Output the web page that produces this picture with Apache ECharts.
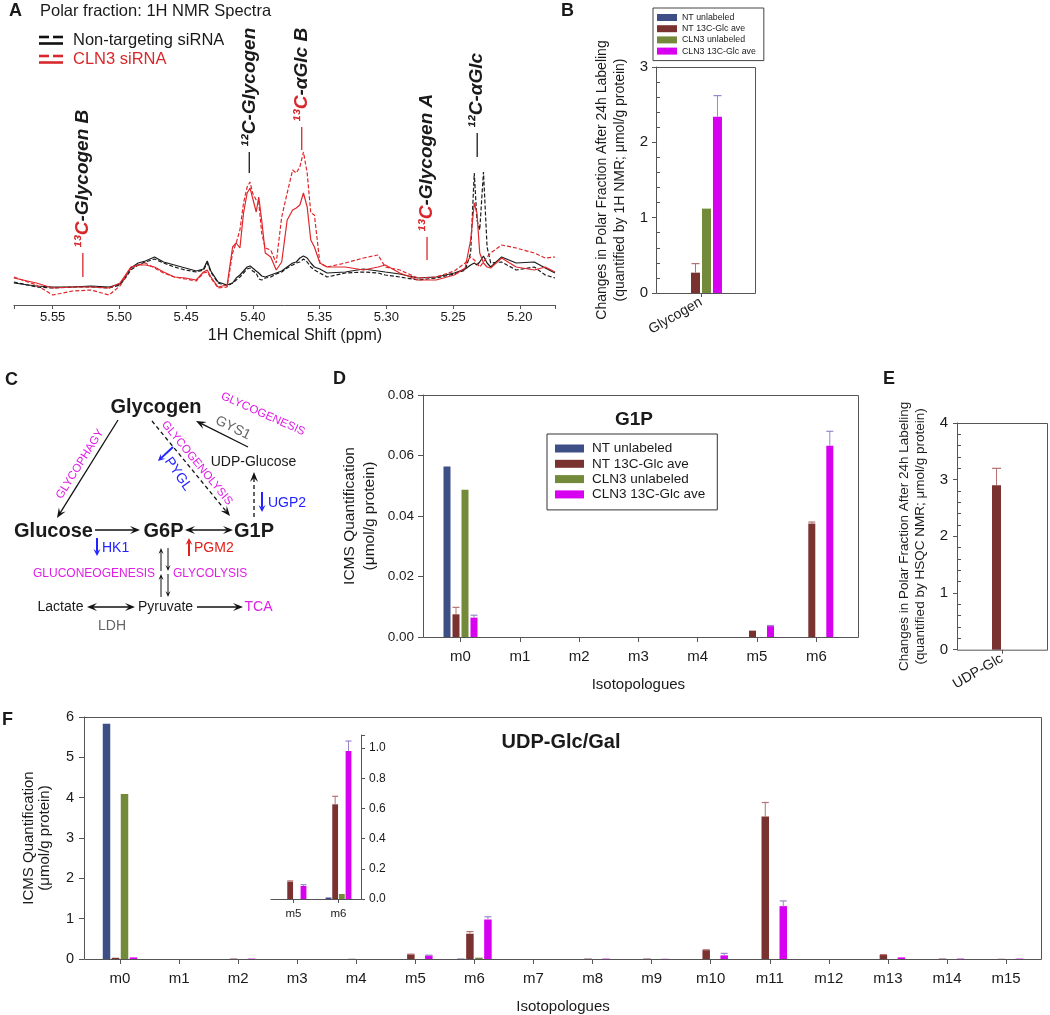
<!DOCTYPE html>
<html>
<head>
<meta charset="utf-8">
<script src="https://cdn.jsdelivr.net/npm/echarts@6.0.0/dist/echarts.min.js"></script>
<style>
html,body{margin:0;padding:0;background:#ffffff;}
#chart{width:1050px;height:1015px;}
</style>
</head>
<body>
<div id="chart"></div>
<script>
// ================= DATA =================
const seriesNames = ['NT unlabeled', 'NT 13C-Glc ave', 'CLN3 unlabeled', 'CLN3 13C-Glc ave'];

// Panel A: 1H NMR spectra (chemical shift in ppm, intensity in a.u.)
const nmrShift = [5.5791, 5.5623, 5.5500, 5.5350, 5.5214, 5.5078, 5.4996, 5.4955, 5.4914, 5.4860,
  5.4805, 5.4737, 5.4669, 5.4588, 5.4506, 5.4424, 5.4370, 5.4342, 5.4315, 5.4261,
  5.4193, 5.4152, 5.4125, 5.4097, 5.4070, 5.4043, 5.4021, 5.4002, 5.3975, 5.3956,
  5.3934, 5.3907, 5.3866, 5.3825, 5.3784, 5.3743, 5.3702, 5.3675, 5.3648, 5.3621,
  5.3593, 5.3566, 5.3539, 5.3498, 5.3444, 5.3307, 5.3171, 5.3062, 5.3008, 5.2899,
  5.2763, 5.2627, 5.2490, 5.2409, 5.2368, 5.2341, 5.2321, 5.2300, 5.2272, 5.2245,
  5.2218, 5.2136, 5.2027, 5.1891, 5.1809, 5.1736];
const ntSolid = [22, 19, 18, 18, 19, 18, 21, 28, 37, 42, 44, 48, 43, 40, 37, 34, 36, 44, 34, 23,
  20, 22, 27, 30, 34, 38, 39, 37, 34, 32, 29, 28, 30, 32, 34, 38, 42, 43, 47, 49,
  47, 42, 38, 36, 32, 33, 36, 34, 33, 31, 27, 28, 32, 36, 40, 42, 40, 43, 49, 42,
  38, 48, 42, 43, 37, 32];
const ntDashed = [23, 18, 17, 18, 18, 17, 20, 27, 35, 40, 43, 46, 42, 38, 35, 33, 35, 42, 33, 22,
  19, 22, 25, 28, 32, 36, 37, 34, 32, 26, 25, 27, 28, 31, 33, 37, 40, 42, 43, 46,
  43, 38, 35, 32, 28, 32, 33, 32, 30, 28, 25, 27, 31, 35, 52, 132, 85, 75, 133, 58,
  42, 43, 35, 38, 30, 27];
const clnSolid = [27, 22, 17, 18, 18, 17, 22, 30, 38, 40, 40, 38, 33, 28, 27, 25, 33, 35, 28, 18,
  20, 58, 62, 57, 92, 112, 117, 107, 93, 108, 85, 52, 48, 35, 43, 85, 95, 97, 100, 112,
  98, 65, 58, 42, 38, 38, 35, 38, 40, 32, 25, 25, 30, 37, 65, 102, 92, 52, 42, 38,
  37, 47, 38, 35, 38, 33];
const clnDashed = [28, 20, 10, 14, 15, 10, 19, 28, 37, 40, 42, 37, 32, 28, 26, 24, 32, 33, 27, 17,
  18, 52, 62, 75, 102, 118, 123, 112, 105, 103, 72, 57, 55, 42, 88, 112, 135, 132, 138, 153,
  132, 92, 90, 42, 38, 42, 47, 50, 38, 35, 27, 28, 34, 42, 48, 45, 42, 38, 43, 48,
  52, 60, 57, 52, 47, 48];
// peak annotations (ppm)
const peakPpm = [5.5274, 5.4027, 5.3634, 5.2695, 5.2319];
const peakIso = ['¹³', '¹²', '¹³', '¹³', '¹²'];
const peakRest = ['-Glycogen B', '-Glycogen', '-αGlc B', '-Glycogen A', '-αGlc'];

// Panel B: glycogen (1H NMR), one value per series
const glycogenCats = ['Glycogen'];
const glycogenMean = [0, 0.27, 1.12, 2.34];
const glycogenErrTop = [null, 0.39, null, 2.62];

// Panel D: G1P isotopologues
const g1pCats = ['m0', 'm1', 'm2', 'm3', 'm4', 'm5', 'm6'];
const g1pNTunl = [0.0564, 0, 0, 0, 0, 0, 0];
const g1pNT13 = [0.0075, 0, 0, 0, 0, 0.0021, 0.0375];
const g1pCLNunl = [0.0487, 0, 0, 0, 0, 0, 0];
const g1pCLN13 = [0.0064, 0, 0, 0, 0, 0.0036, 0.0632];
const g1pNT13Err = [0.0098, null, null, null, null, null, 0.0380];
const g1pCLN13Err = [0.0072, null, null, null, null, 0.0038, 0.0680];

// Panel E: UDP-Glc (HSQC NMR)
const udpGlcCats = ['UDP-Glc'];
const udpGlcMean = [0, 2.90, 0, 0];
const udpGlcErrTop = [null, 3.20, null, null];

// Panel F: UDP-Glc/Gal isotopologues
const udpCats = ['m0', 'm1', 'm2', 'm3', 'm4', 'm5', 'm6', 'm7', 'm8', 'm9', 'm10', 'm11', 'm12', 'm13', 'm14', 'm15'];
const udpNTunl = [5.83, 0, 0, 0, 0, 0, 0.01, 0, 0, 0, 0, 0, 0, 0, 0, 0];
const udpNT13 = [0.03, 0, 0.01, 0, 0.005, 0.115, 0.627, 0, 0.01, 0.01, 0.22, 3.53, 0, 0.10, 0.01, 0.005];
const udpCLNunl = [4.09, 0, 0, 0, 0, 0, 0.033, 0, 0, 0, 0, 0, 0, 0, 0, 0];
const udpCLN13 = [0.04, 0, 0.01, 0, 0, 0.086, 0.98, 0, 0.01, 0.005, 0.09, 1.31, 0, 0.04, 0.01, 0.01];
const udpNT13Err = [null, null, null, null, null, 0.12, 0.68, null, null, null, 0.23, 3.88, null, 0.11, null, null];
const udpCLN13Err = [null, null, null, null, null, 0.095, 1.046, null, null, null, 0.14, 1.44, null, null, null, null];
// inset shows m5 and m6 of panel F
const insetCats = ['m5', 'm6'];

// ================= STYLE =================
const FONT = '"Liberation Sans", Arial, Helvetica, sans-serif';
const COLORS = ['#3e4f88', '#7a3230', '#738a3a', '#d800f0'];
const ERR_COLORS = [null, '#b57272', null, '#9b87c9'];
const INK = '#1a1a1a';
const AXIS = '#555555';
const RED = '#d8282c';
const MAG = '#e01fe6';
const BLUE = '#2323ff';
const PGM_RED = '#e0201a';

const chart = echarts.init(document.getElementById('chart'));

function barSet(ax, arrays, barW, gapPct) {
  return arrays.map((arr, s) => ({
    type: 'bar', name: seriesNames[s], xAxisIndex: ax, yAxisIndex: ax,
    data: arr, barWidth: barW, barGap: gapPct + '%',
    itemStyle: { color: COLORS[s] }, silent: true, animation: false, z: 2
  }));
}
function errSet(ax, arrays, errs, barW, gapPct, cap) {
  const pitch = barW * (1 + gapPct / 100);
  const n = arrays.length;
  const out = [];
  errs.forEach((errArr, s) => {
    if (!errArr) return;
    const data = [];
    errArr.forEach((e, i) => { if (e != null) data.push([i, arrays[s][i], e]); });
    const off = (s - (n - 1) / 2) * pitch;
    out.push({
      type: 'custom', xAxisIndex: ax, yAxisIndex: ax, silent: true, animation: false, z: 3,
      encode: { x: 0, y: [1, 2] }, data,
      renderItem: (params, api) => {
        const p1 = api.coord([api.value(0), api.value(1)]);
        const p2 = api.coord([api.value(0), api.value(2)]);
        const x = p1[0] + off;
        return { type: 'group', children: [
          { type: 'line', shape: { x1: x, y1: p1[1], x2: x, y2: p2[1] }, style: { stroke: ERR_COLORS[s], lineWidth: 1 } },
          { type: 'line', shape: { x1: x - cap, y1: p2[1], x2: x + cap, y2: p2[1] }, style: { stroke: ERR_COLORS[s], lineWidth: 1.2 } }
        ] };
      }
    });
  });
  return out;
}

const lbl = (o) => Object.assign({ color: INK, fontFamily: FONT }, o);
const nameStyle = (o) => Object.assign({ color: INK, fontFamily: FONT }, o);
const ppmFmt = (v) => { const k = Math.round(v / 0.05); return Math.abs(v - k * 0.05) < 1e-6 ? v.toFixed(2) : ''; };
const stepFmt = (step, dec) => (v) => { const k = Math.round(v / step); return Math.abs(v - k * step) < 1e-7 ? v.toFixed(dec) : ''; };

// panel arrays
const bArrays = glycogenMean.map(v => [v]);
const bErrs = glycogenErrTop.map(e => e == null ? null : [e]);
const dArrays = [g1pNTunl, g1pNT13, g1pCLNunl, g1pCLN13];
const dErrs = [null, g1pNT13Err, null, g1pCLN13Err];
const eArrays = udpGlcMean.map(v => [v]);
const eErrs = udpGlcErrTop.map(e => e == null ? null : [e]);
const fArrays = [udpNTunl, udpNT13, udpCLNunl, udpCLN13];
const fErrs = [null, udpNT13Err, null, udpCLN13Err];
const insetIdx = insetCats.map(c => udpCats.indexOf(c));
const iArrays = fArrays.map(a => insetIdx.map(i => a[i]));
const iErrs = fErrs.map(a => a ? insetIdx.map(i => a[i]) : null);

const lineSeries = [
  { data: ntSolid, color: '#1c1c1c', dash: 'solid' },
  { data: ntDashed, color: '#1c1c1c', dash: [4, 2] },
  { data: clnSolid, color: '#e0262b', dash: 'solid' },
  { data: clnDashed, color: '#e0262b', dash: [4, 2] }
].map(d => ({
  type: 'line', xAxisIndex: 0, yAxisIndex: 0, showSymbol: false, symbol: 'none', silent: true,
  animation: false, data: nmrShift.map((x, i) => [x, d.data[i]]),
  lineStyle: { color: d.color, width: 1.2, type: d.dash }
}));

const option = {
  animation: false,
  backgroundColor: '#ffffff',
  textStyle: { fontFamily: FONT },
  grid: [
    { left: 14, top: 35, width: 541, height: 270, outerBoundsMode: 'none' },        // A
    { left: 656, top: 67, width: 90, height: 226, outerBoundsMode: 'none' },        // B
    { left: 430.85, top: 395, width: 415.1, height: 242, outerBoundsMode: 'none' }, // D
    { left: 957, top: 423, width: 90, height: 226.7, outerBoundsMode: 'none' },     // E
    { left: 90.47, top: 717, width: 945.1, height: 242, outerBoundsMode: 'none' },  // F
    { left: 271, top: 735, width: 90, height: 164, outerBoundsMode: 'none' }        // F inset
  ],
  legend: [
    { data: seriesNames, orient: 'vertical', left: 653, top: 8, icon: 'rect', itemWidth: 20, itemHeight: 7,
      itemGap: 2.2, padding: [5, 8, 5, 4], borderColor: '#444', borderWidth: 1, selectedMode: false,
      textStyle: { fontSize: 8.8, color: INK, fontFamily: FONT, lineHeight: 8 } },
    { data: seriesNames, orient: 'vertical', left: 547, top: 434, icon: 'rect', itemWidth: 29, itemHeight: 8,
      itemGap: 0.3, padding: [7, 12, 8, 8], borderColor: '#333', borderWidth: 1, selectedMode: false,
      textStyle: { fontSize: 13.5, color: INK, fontFamily: FONT, lineHeight: 15, padding: [0, 0, 0, 3] } }
  ],
  xAxis: [
    { gridIndex: 0, type: 'value', min: 5.1736, max: 5.579, inverse: true, splitNumber: 8,
      axisLine: { lineStyle: { color: AXIS } }, axisTick: { length: 4, lineStyle: { color: AXIS } },
      axisLabel: lbl({ fontSize: 13, margin: 6, formatter: ppmFmt }), splitLine: { show: false },
      name: '1H Chemical Shift (ppm)', nameLocation: 'middle', nameGap: 23,
      nameTextStyle: nameStyle({ fontSize: 16, padding: [0, 0, 0, 21] }) },
    { gridIndex: 1, type: 'category', data: glycogenCats, axisLine: { show: false },
      axisTick: { show: true, alignWithLabel: true, length: 4, lineStyle: { color: AXIS } },
      axisLabel: lbl({ fontSize: 14, rotate: 30, margin: 8 }) },
    { gridIndex: 2, type: 'category', data: g1pCats, axisLine: { show: false },
      axisTick: { show: true, alignWithLabel: true, length: 5, lineStyle: { color: AXIS } },
      axisLabel: lbl({ fontSize: 15, margin: 12 }),
      name: 'Isotopologues', nameLocation: 'middle', nameGap: 40, nameTextStyle: nameStyle({ fontSize: 15 }) },
    { gridIndex: 3, type: 'category', data: udpGlcCats, axisLine: { show: false },
      axisTick: { show: true, alignWithLabel: true, length: 4, lineStyle: { color: AXIS } },
      axisLabel: lbl({ fontSize: 14, rotate: 30, margin: 8 }) },
    { gridIndex: 4, type: 'category', data: udpCats, axisLine: { show: false },
      axisTick: { show: true, alignWithLabel: true, length: 5, lineStyle: { color: AXIS } },
      axisLabel: lbl({ fontSize: 15, margin: 12 }),
      name: 'Isotopologues', nameLocation: 'middle', nameGap: 40, nameTextStyle: nameStyle({ fontSize: 15 }) },
    { gridIndex: 5, type: 'category', data: insetCats, axisLine: { show: true, lineStyle: { color: AXIS } },
      axisTick: { show: true, alignWithLabel: true, length: 4, lineStyle: { color: AXIS } },
      axisLabel: lbl({ fontSize: 11.5, margin: 9 }) }
  ],
  yAxis: [
    { gridIndex: 0, type: 'value', min: 0, max: 270, show: false },
    { gridIndex: 1, type: 'value', min: 0, max: 3, interval: 1,
      axisLine: { show: true, lineStyle: { color: AXIS } }, axisTick: { show: true, length: 4, lineStyle: { color: AXIS } },
      minorTick: { show: true, splitNumber: 5, length: -4, lineStyle: { color: AXIS } },
      splitLine: { show: false }, axisLabel: lbl({ fontSize: 15, margin: 8 }),
      name: 'Changes in Polar Fraction After 24h Labeling\n(quantified by 1H NMR; μmol/g protein)',
      nameLocation: 'middle', nameGap: 27, nameTextStyle: nameStyle({ fontSize: 14, lineHeight: 18 }) },
    { gridIndex: 2, type: 'value', min: 0, max: 0.08, interval: 0.02, offset: 7.85,
      axisLine: { show: true, lineStyle: { color: AXIS } }, axisTick: { show: true, length: 5, lineStyle: { color: AXIS } },
      splitLine: { show: false }, axisLabel: lbl({ fontSize: 13.5, margin: 9, formatter: stepFmt(0.02, 2) }),
      name: 'ICMS Quantification\n(μmol/g protein)', nameLocation: 'middle', nameGap: 43,
      nameTextStyle: nameStyle({ fontSize: 15.5, lineHeight: 20 }) },
    { gridIndex: 3, type: 'value', min: 0, max: 4, interval: 1,
      axisLine: { show: true, lineStyle: { color: AXIS } }, axisTick: { show: true, length: 4, lineStyle: { color: AXIS } },
      minorTick: { show: true, splitNumber: 5, length: -4, lineStyle: { color: AXIS } },
      splitLine: { show: false }, axisLabel: lbl({ fontSize: 15, margin: 9 }),
      name: 'Changes in Polar Fraction After 24h Labeling\n(quantified by HSQC NMR; μmol/g protein)',
      nameLocation: 'middle', nameGap: 29, nameTextStyle: nameStyle({ fontSize: 13.5, lineHeight: 16 }) },
    { gridIndex: 4, type: 'value', min: 0, max: 6, interval: 1, offset: 6.47,
      axisLine: { show: true, lineStyle: { color: AXIS } }, axisTick: { show: true, length: 5, lineStyle: { color: AXIS } },
      splitLine: { show: false }, axisLabel: lbl({ fontSize: 14.5, margin: 10 }),
      name: 'ICMS Quantification\n(μmol/g protein)', nameLocation: 'middle', nameGap: 31,
      nameTextStyle: nameStyle({ fontSize: 15, lineHeight: 16 }) },
    { gridIndex: 5, type: 'value', position: 'right', min: 0, max: 1.086, interval: 0.2,
      axisLine: { show: true, lineStyle: { color: AXIS } }, axisTick: { show: true, length: 4, lineStyle: { color: AXIS } },
      splitLine: { show: false }, axisLabel: lbl({ fontSize: 12, margin: 8, formatter: stepFmt(0.2, 1) }) }
  ],
  series: [
    ...lineSeries,
    ...barSet(1, bArrays, 9, 22), ...errSet(1, bArrays, bErrs, 9, 22, 4),
    ...barSet(2, dArrays, 7, 28.57), ...errSet(2, dArrays, dErrs, 7, 28.57, 3.5),
    ...barSet(3, eArrays, 9, 22), ...errSet(3, eArrays, eErrs, 9, 22, 4.5),
    ...barSet(4, fArrays, 7.5, 20), ...errSet(4, fArrays, fErrs, 7.5, 20, 3.5),
    ...barSet(5, iArrays, 5.8, 15), ...errSet(5, iArrays, iErrs, 5.8, 15, 3)
  ]
};
chart.setOption(option);

// ================= GRAPHICS (text, frames, pathway diagram) =================
function T(text, x, y, o = {}) {
  return { type: 'text', x, y, rotation: (o.rot || 0) * Math.PI / 180, silent: true, z: 10,
    style: { text, fill: o.color || INK, fontSize: o.size || 14, fontWeight: o.bold ? 'bold' : 'normal',
      fontStyle: o.italic ? 'italic' : 'normal', fontFamily: FONT,
      align: o.align || 'center', verticalAlign: o.valign || 'middle' } };
}
function L(x1, y1, x2, y2, color, lw, dash) {
  return { type: 'line', silent: true, z: 10, shape: { x1, y1, x2, y2 },
    style: { stroke: color, lineWidth: lw, lineDash: dash || null } };
}
function arrow(x1, y1, x2, y2, o = {}) {
  const col = o.color || '#111', lw = o.lw || 1.3, hl = o.hl || 10, hw = o.hw || 4;
  const dx = x2 - x1, dy = y2 - y1, len = Math.hypot(dx, dy), ux = dx / len, uy = dy / len;
  const head = (tx, ty, vx, vy) => ({ type: 'polygon', silent: true, z: 10, shape: { points: [
    [tx, ty], [tx - vx * hl - vy * hw, ty - vy * hl + vx * hw],
    [tx - vx * hl * 0.6, ty - vy * hl * 0.6], [tx - vx * hl + vy * hw, ty - vy * hl - vx * hw]] },
    style: { fill: col } });
  let sx = x1, sy = y1;
  if (o.both) { sx = x1 + ux * hl * 0.6; sy = y1 + uy * hl * 0.6; }
  const els = [L(sx, sy, x2 - ux * hl * 0.6, y2 - uy * hl * 0.6, col, lw, o.dashed ? [4, 3] : null), head(x2, y2, ux, uy)];
  if (o.both) els.push(head(x1, y1, -ux, -uy));
  return els;
}
function frame(x, y, w, h) {
  return { type: 'rect', silent: true, z: 5, shape: { x: x + 0.5, y: y + 0.5, width: w, height: h },
    style: { fill: null, stroke: AXIS, lineWidth: 1 } };
}

const g = [];
// panel letters
g.push(T('A', 9, 11, { bold: true, size: 18, align: 'left' }));
g.push(T('B', 561, 11, { bold: true, size: 18, align: 'left' }));
g.push(T('C', 5, 380, { bold: true, size: 18, align: 'left' }));
g.push(T('D', 333, 379, { bold: true, size: 18, align: 'left' }));
g.push(T('E', 883, 379, { bold: true, size: 18, align: 'left' }));
g.push(T('F', 2, 720, { bold: true, size: 18, align: 'left' }));
// panel A title + legend
g.push(T('Polar fraction: 1H NMR Spectra', 40, 11, { size: 16.5, align: 'left' }));
g.push(L(39, 37, 49, 37, '#111', 2.6), L(53, 37, 63, 37, '#111', 2.6), L(39, 43.5, 63, 43.5, '#111', 2.6));
g.push(T('Non-targeting siRNA', 73, 40, { size: 16.5, align: 'left' }));
g.push(L(39, 56, 49, 56, RED, 2.6), L(53, 56, 63, 56, RED, 2.6), L(39, 62.5, 63, 62.5, RED, 2.6));
g.push(T('CLN3 siRNA', 73, 59, { size: 16.5, align: 'left', color: RED }));
// frames
g.push(frame(656, 67, 99, 226));
g.push(frame(423, 395, 435, 242));
g.push(frame(957, 423, 90, 226.7));
g.push(frame(84, 717, 957, 242));
// chart titles
g.push(T('G1P', 634, 420, { bold: true, size: 19 }));
g.push(T('UDP-Glc/Gal', 561, 742, { bold: true, size: 20 }));
// pathway diagram (panel C)
g.push(
  T('Glycogen', 156, 407, { bold: true, size: 20 }),
  T('Glucose', 53.5, 531, { bold: true, size: 20 }),
  T('G6P', 163.5, 531, { bold: true, size: 20 }),
  T('G1P', 254, 531, { bold: true, size: 20 }),
  T('UDP-Glucose', 253.5, 462, { size: 14 }),
  T('Lactate', 60.5, 607, { size: 14 }),
  T('Pyruvate', 165.5, 607, { size: 14 }),
  T('TCA', 258.5, 607, { size: 14, color: MAG }),
  T('LDH', 112, 626, { size: 14, color: '#666' }),
  T('GLUCONEOGENESIS', 155, 574, { size: 12, color: MAG, align: 'right' }),
  T('GLYCOLYSIS', 173, 574, { size: 12, color: MAG, align: 'left' }),
  T('GLYCOPHAGY', 80, 464, { size: 11.5, color: MAG, rot: 58 }),
  T('GLYCOGENOLYSIS', 197, 463, { size: 11.5, color: MAG, rot: -50.6 }),
  T('GLYCOGENESIS', 263, 414, { size: 11.5, color: MAG, rot: -24 }),
  T('GYS1', 233, 428, { size: 14, color: '#666', rot: -26 }),
  T('PYGL', 178, 474, { size: 14, color: BLUE, rot: -55 }),
  T('HK1', 102, 548, { size: 14, color: BLUE, align: 'left' }),
  T('PGM2', 194, 548, { size: 14, color: PGM_RED, align: 'left' }),
  T('UGP2', 268, 503, { size: 14, color: BLUE, align: 'left' }),
  ...arrow(118, 420, 57, 518),
  ...arrow(152, 421, 230, 516, { dashed: true }),
  ...arrow(248, 447, 196, 421),
  ...arrow(254, 517, 254, 472, { dashed: true }),
  ...arrow(95, 530, 140, 530),
  ...arrow(185, 530, 233, 530, { both: true }),
  ...arrow(161, 571, 161, 548, { hl: 6, hw: 2.5, lw: 1 }),
  ...arrow(161, 597, 161, 574, { hl: 6, hw: 2.5, lw: 1 }),
  ...arrow(168, 548, 168, 571, { hl: 6, hw: 2.5, lw: 1 }),
  ...arrow(168, 574, 168, 597, { hl: 6, hw: 2.5, lw: 1 }),
  ...arrow(87, 607, 135, 607, { both: true }),
  ...arrow(197, 607, 243, 607),
  ...arrow(97, 538, 97, 556, { color: BLUE, lw: 2, hl: 7, hw: 3.5 }),
  ...arrow(189, 556, 189, 538, { color: PGM_RED, lw: 2, hl: 7, hw: 3.5 }),
  ...arrow(262, 492, 262, 512, { color: BLUE, lw: 2, hl: 7, hw: 3.5 }),
  ...arrow(173, 447, 158, 461, { color: BLUE, lw: 2, hl: 7, hw: 3.5 })
);
// peak annotations in panel A (placed through the axis scales)
const PEAK_SPAN = [[28, 52, 57], [132, 153, 158], [155, 178, 183], [45, 68, 73], [148, 172, 177]];
peakPpm.forEach((ppm, i) => {
  const [a, b, t] = PEAK_SPAN[i];
  const p1 = chart.convertToPixel({ gridIndex: 0 }, [ppm, a]);
  const p2 = chart.convertToPixel({ gridIndex: 0 }, [ppm, b]);
  const pt = chart.convertToPixel({ gridIndex: 0 }, [ppm, t]);
  const red = peakIso[i] === '¹³';
  g.push(L(p1[0], p1[1], p2[0], p2[1], red ? RED : INK, 1.3));
  const tok = (c) => ({ fill: c, fontSize: 19, fontWeight: 'bold', fontStyle: 'italic', fontFamily: FONT });
  g.push({ type: 'text', x: pt[0], y: pt[1], rotation: Math.PI / 2, silent: true, z: 10,
    style: { text: '{a|' + peakIso[i] + 'C}{b|' + peakRest[i] + '}', rich: { a: tok(red ? RED : INK), b: tok(INK) },
      align: 'left', verticalAlign: 'middle' } });
});
chart.setOption({ graphic: { elements: g } });
</script>
</body>
</html>
